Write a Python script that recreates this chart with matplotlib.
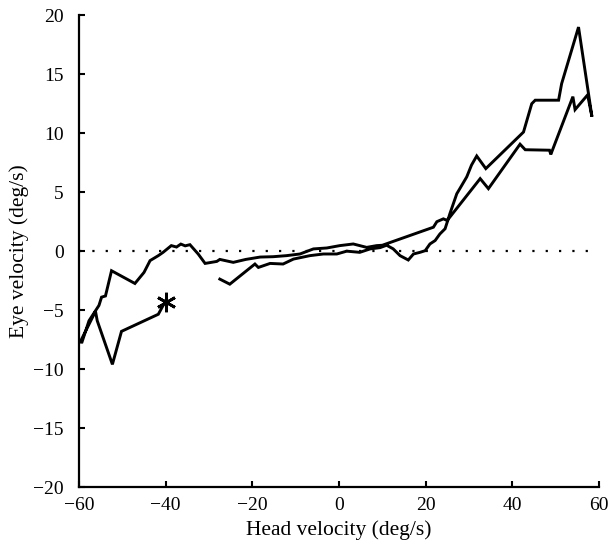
import matplotlib
matplotlib.use("Agg")
import matplotlib.pyplot as plt

# Head velocity vs eye velocity trace (deg/s); one continuous sweep
head_velocity = [
    -40.0, -41.7, -50.2, -52.3, -55.8, -56.2, -59.6,
    -59.4, -57.7, -55.4, -54.8, -53.9, -52.5, -47.1, -45.0, -43.6, -41.7,
    -40.6, -38.7, -37.5, -36.5, -35.5, -34.4, -32.5, -30.9, -28.2, -27.5,
    -24.4, -21.5, -18.2, -15.2, -12.1, -9.0, -5.9, -2.8, 0.2, 3.3, 6.4,
    8.7, 10.0, 21.8, 22.6, 24.1, 25.0, 25.2,
    32.6, 34.5, 41.8, 43.0, 48.6, 48.9, 54.0, 54.5, 57.4, 58.4,
    55.3, 51.4, 50.7, 45.3, 44.5, 42.6, 33.9, 31.8, 30.6, 29.5, 27.9,
    27.2, 25.6, 25.2, 24.5, 23.3, 22.2, 21.0, 19.9, 18.7, 17.2, 16.0,
    14.1, 12.5, 11.0, 9.5, 7.2, 4.8, 1.8, -0.5, -3.6, -6.7, -10.5,
    -12.9, -15.9, -18.6, -19.4, -25.2, -27.5,
]
eye_velocity = [
    -4.2, -5.35, -6.8, -9.6, -5.9, -5.1, -7.6,
    -7.8, -5.9, -4.6, -3.9, -3.8, -1.66, -2.74, -1.8, -0.8, -0.38,
    -0.1, 0.47, 0.35, 0.6, 0.45, 0.55, -0.24, -1.04, -0.87, -0.7,
    -0.95, -0.7, -0.5, -0.47, -0.38, -0.24, 0.19, 0.27, 0.47, 0.61, 0.32,
    0.47, 0.5, 2.03, 2.5, 2.74, 2.6, 2.7,
    6.15, 5.3, 9.07, 8.6, 8.56, 8.2, 13.1, 12.0, 13.25, 11.4,
    19.0, 14.2, 12.8, 12.8, 12.5, 10.1, 7.0, 8.07, 7.3, 6.3, 5.3,
    4.87, 3.17, 2.7, 1.9, 1.46, 0.9, 0.61, 0.04, -0.1, -0.24, -0.75,
    -0.38, 0.2, 0.5, 0.3, 0.19, -0.1, 0.0, -0.24, -0.24, -0.38, -0.67,
    -1.09, -1.04, -1.38, -1.09, -2.8, -2.37,
]
start_point = (-40.0, -4.3)

x_ticks = [-60, -40, -20, 0, 20, 40, 60]
y_ticks = [-20, -15, -10, -5, 0, 5, 10, 15, 20]

plt.rcParams["font.family"] = ["Liberation Serif", "DejaVu Serif"]

fig = plt.figure(figsize=(6.08, 5.46), dpi=100)
ax = fig.add_axes([0.130, 0.108, 0.855, 0.864])

ax.plot([x_ticks[0], x_ticks[-1]], [0, 0], color="black",
        linestyle=(0, (1, 5)), linewidth=1.6)
ax.plot(head_velocity, eye_velocity, color="black", linewidth=2.1,
        solid_joinstyle="miter")
ax.plot([start_point[0]], [start_point[1]], marker=(6, 2, 0),
        markersize=14, markeredgewidth=2.0, color="black")

ax.set_xlim(-60, 60)
ax.set_ylim(-20, 20)
ax.set_xticks(x_ticks)
ax.set_yticks(y_ticks)
ax.spines["top"].set_visible(False)
ax.spines["right"].set_visible(False)
for side in ("left", "bottom"):
    ax.spines[side].set_linewidth(1.6)
ax.tick_params(direction="in", length=4, width=1.5, labelsize=14,
               colors="black")
ax.tick_params(axis="y", pad=11)
ax.tick_params(axis="x", pad=7)

ax.set_xlabel("Head velocity (deg/s)", fontsize=15.5, labelpad=5)
ax.set_ylabel("Eye velocity (deg/s)", fontsize=15.5, labelpad=3)

fig.savefig("out.png", dpi=100, facecolor="white")
